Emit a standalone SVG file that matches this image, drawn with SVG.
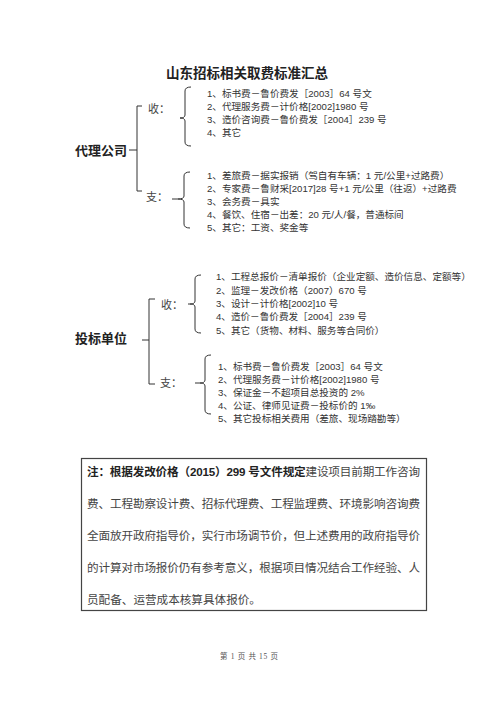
<svg xmlns="http://www.w3.org/2000/svg" width="496" height="702" viewBox="0 0 496 702">
<style>
.title{font-family:"Noto Sans CJK SC",sans-serif;font-weight:bold;font-size:13.5px;fill:#222}
.cat{font-family:"Noto Sans CJK SC",sans-serif;font-weight:bold;font-size:13px;fill:#222}
.lbl{font-family:"Liberation Serif","Noto Sans CJK SC",serif;font-size:11px;fill:#444}
.item{font-family:"Liberation Sans","Noto Sans CJK SC",sans-serif;font-size:9.6px;fill:#333}
.note{font-family:"Liberation Sans","Noto Sans CJK SC",sans-serif;font-size:11.6px;fill:#444}
.noteb{font-weight:bold;fill:#222}
.foot{font-family:"Liberation Serif","Noto Sans CJK SC",serif;font-size:7.5px;fill:#555}
.ln{fill:none;stroke:#333;stroke-width:1}
</style>
<rect width="496" height="702" fill="#fff"/>
<text class="title" x="247" y="78" text-anchor="middle">山东招标相关取费标准汇总</text>

<g id="connectors">
  <path class="ln" d="M142,106 L137,106 L137,191 L142,191 M129,150 L137,150"/>
  <path class="ln" d="M191,87 Q185,87 185,91 L185,115 Q185,118 180,118 Q185,118 185,121 L185,142 Q185,146 191,146"/>
  <path class="ln" d="M190,172 Q184,172 184,176 L184,196 Q184,199 178,199 L172,199 M178,199 Q184,199 184,202 L184,224 Q184,228 190,228"/>
  <path class="ln" d="M155,299 L149,299 L149,384 L155,384 M142,340 L149,340"/>
  <path class="ln" d="M201,275 Q195,275 195,279 L195,301 Q195,304 190,304 L188,304 M190,304 Q195,304 195,307 L195,329 Q195,333 201,333"/>
  <path class="ln" d="M211,355 Q205,355 205,359 L205,380 Q205,383 200,383 L195,383 M200,383 Q205,383 205,386 L205,410 Q205,414 211,414"/>
</g>

<g id="dlgs">
  <text class="cat" x="75" y="155">代理公司</text>
</g>
<g id="dlgs-shou">
  <text class="lbl" x="148" y="113">收：</text>
  <text class="item" x="207" y="97">1、标书费－鲁价费发［2003］64 号文</text>
  <text class="item" x="207" y="110">2、代理服务费－计价格[2002]1980 号</text>
  <text class="item" x="207" y="123">3、造价咨询费－鲁价费发［2004］239 号</text>
  <text class="item" x="207" y="136">4、其它</text>
</g>
<g id="dlgs-zhi">
  <text class="lbl" x="146" y="201">支：</text>
  <text class="item" x="207" y="179">1、差旅费－据实报销（驾自有车辆：1 元/公里+过路费）</text>
  <text class="item" x="207" y="192">2、专家费－鲁财采[2017]28 号+1 元/公里（往返）+过路费</text>
  <text class="item" x="207" y="205">3、会务费－具实</text>
  <text class="item" x="207" y="218">4、餐饮、住宿－出差：20 元/人/餐，普通标间</text>
  <text class="item" x="207" y="231">5、其它：工资、奖金等</text>
</g>

<g id="tbdw">
  <text class="cat" x="75" y="343">投标单位</text>
</g>
<g id="tbdw-shou">
  <text class="lbl" x="161" y="309">收：</text>
  <text class="item" x="216" y="280">1、工程总报价－清单报价（企业定额、造价信息、定额等）</text>
  <text class="item" x="216" y="294">2、监理－发改价格（2007）670 号</text>
  <text class="item" x="216" y="307">3、设计－计价格[2002]10 号</text>
  <text class="item" x="216" y="320">4、造价－鲁价费发［2004］239 号</text>
  <text class="item" x="216" y="334">5、其它（货物、材料、服务等合同价）</text>
</g>
<g id="tbdw-zhi">
  <text class="lbl" x="160" y="387">支：</text>
  <text class="item" x="218" y="370">1、标书费－鲁价费发［2003］64 号文</text>
  <text class="item" x="218" y="383">2、代理服务费－计价格[2002]1980 号</text>
  <text class="item" x="218" y="396">3、保证金－不超项目总投资的 2%</text>
  <text class="item" x="218" y="409">4、公证、律师见证费－投标价的 1‰</text>
  <text class="item" x="218" y="422">5、其它投标相关费用（差旅、现场踏勘等）</text>
</g>

<g id="note">
  <rect x="81.5" y="458.5" width="345" height="152" fill="none" stroke="#444" stroke-width="1.2"/>
  <text class="note" x="87" y="476" textLength="333" lengthAdjust="spacing"><tspan class="noteb">注：根据发改价格（2015）299 号文件规定</tspan>建设项目前期工作咨询</text>
  <text class="note" x="87" y="508" textLength="333" lengthAdjust="spacing">费、工程勘察设计费、招标代理费、工程监理费、环境影响咨询费</text>
  <text class="note" x="87" y="540" textLength="333" lengthAdjust="spacing">全面放开政府指导价，实行市场调节价，但上述费用的政府指导价</text>
  <text class="note" x="87" y="572" textLength="333" lengthAdjust="spacing">的计算对市场报价仍有参考意义，根据项目情况结合工作经验、人</text>
  <text class="note" x="87" y="604">员配备、运营成本核算具体报价。</text>
</g>

<text class="foot" x="220" y="659" textLength="58" lengthAdjust="spacing">第 1 页 共 15 页</text>
</svg>
